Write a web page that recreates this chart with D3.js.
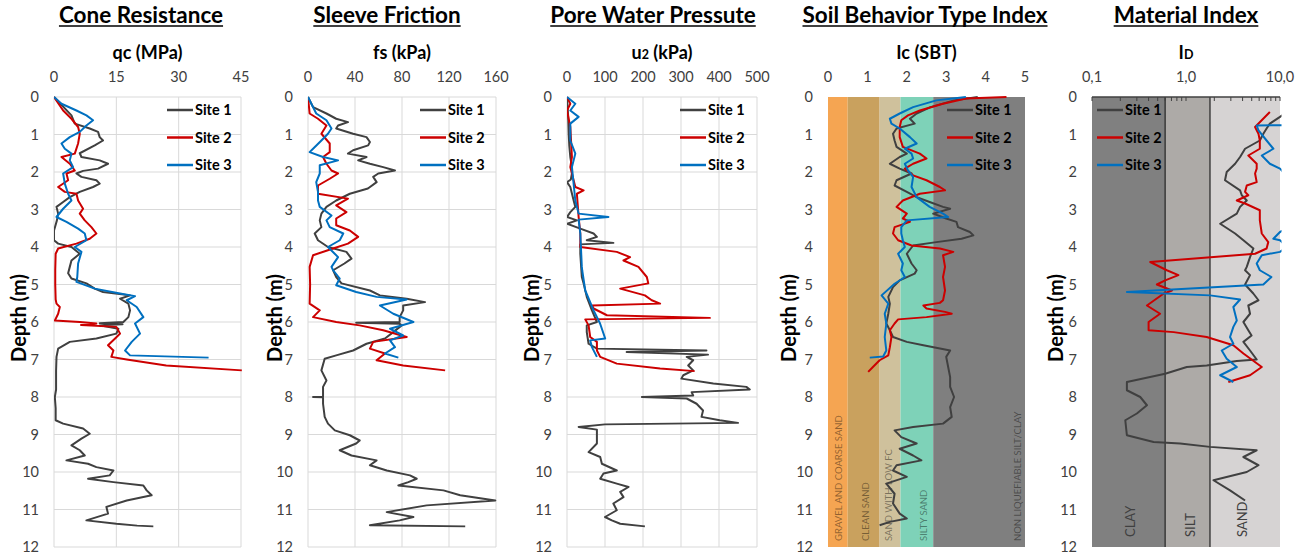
<!DOCTYPE html>
<html><head><meta charset="utf-8">
<script src="https://cdn.jsdelivr.net/npm/d3@7"></script>
<style>body{margin:0;background:#fff}svg{display:block;font-family:Lato,'Open Sans',sans-serif}</style>
</head><body><svg id="c" width="1308" height="558"></svg>
<script>
// ---------- DATA : [depth (m), value] ----------
const depthTicks = [0,1,2,3,4,5,6,7,8,9,10,11,12];
const siteNames = ['Site 1','Site 2','Site 3'];

const qcTicks = [0,15,30,45];
const qcSite1 = [[0,0],[0.49,4.2],[0.71,5],[0.84,8.6],[0.93,10.6],[1.07,11],[1.16,11.8],[1.29,9.8],[1.5,6.2],[1.6,6.6],[1.69,11],[1.78,13],[1.91,10.6],[1.97,7],[2.04,5.4],[2.13,6.6],[2.22,10.2],[2.31,11],[2.4,9.4],[2.53,6.2],[2.67,3.8],[2.8,2.2],[2.93,0.6],[3.11,1],[3.29,0.7],[3.56,0],[3.82,0],[3.91,1],[4.0,4.2],[4.18,6.2],[4.36,4.2],[4.53,3.8],[4.7,3.4],[4.84,4.2],[4.97,7.8],[5.11,9.8],[5.2,11.8],[5.29,18.3],[5.38,15.9],[5.51,17.9],[5.69,18.3],[5.87,17.9],[6.0,16.7],[6.03,11],[6.06,16.5],[6.09,11],[6.18,15.5],[6.31,15],[6.44,10.2],[6.53,3.8],[6.71,1],[6.93,0.6],[7.3,0.5],[7.8,0.5],[8.0,0.2],[8.3,0.4],[8.62,0.4],[8.71,2.2],[8.84,7],[8.98,8.6],[9.11,6.6],[9.29,4.2],[9.42,6.2],[9.56,7.4],[9.69,3],[9.78,8.2],[9.87,10.2],[9.96,14.3],[10.09,13.4],[10.18,8.2],[10.27,14.3],[10.36,21.5],[10.49,22.3],[10.62,23.5],[10.76,17.5],[10.93,12.6],[11.11,13],[11.29,7.8],[11.38,15],[11.43,20],[11.45,23.9]];
const qcSite2 = [[0,0],[0.36,2.2],[0.58,4.2],[0.8,5.8],[0.98,6.2],[1.24,5.8],[1.51,5],[1.6,1.8],[1.78,3.8],[1.96,5],[2.04,3],[2.22,3.4],[2.4,1],[2.53,2.6],[2.58,5.4],[2.76,5.8],[2.98,7],[3.11,6.2],[3.29,7.4],[3.47,9],[3.64,10.2],[3.78,8.6],[3.91,5.4],[4.04,1],[4.18,0.4],[4.6,0.3],[5.0,0.3],[5.4,0.4],[5.51,0.6],[5.6,1.4],[5.78,1],[5.96,0.2],[6.0,6.2],[6.04,10.2],[6.08,6.5],[6.13,15],[6.31,15.9],[6.44,14.7],[6.62,13],[6.76,14.3],[6.93,13.8],[7.0,17.5],[7.16,27],[7.29,45.2]];
const qcSite3 = [[0,0],[0.18,1.8],[0.36,5.4],[0.49,7.8],[0.62,9.4],[0.76,7.8],[0.93,6.2],[1.07,3.8],[1.24,1.8],[1.38,2.6],[1.51,4.2],[1.69,3.8],[1.87,4.6],[2.04,2.2],[2.31,2.6],[2.58,3.4],[2.76,4.2],[2.98,2.2],[3.2,0.6],[3.33,3],[3.51,5.8],[3.64,7.4],[3.82,7.8],[4.0,5],[4.13,6.6],[4.44,5.8],[4.8,5.6],[4.93,5.4],[5.11,9.8],[5.24,15.9],[5.31,19.5],[5.42,17.5],[5.6,19.9],[5.87,21.5],[6.04,19.5],[6.31,20.7],[6.53,18.7],[6.76,17.1],[6.89,18.3],[6.95,37.2]];

const fsTicks = [0,40,80,120,160];
const fsSite1 = [[0,0],[0.27,4.3],[0.44,15.7],[0.58,24],[0.67,34],[0.76,25.6],[0.84,24],[0.98,38.4],[1.07,49.8],[1.2,52.7],[1.29,51.2],[1.42,38.4],[1.51,34],[1.6,49.8],[1.69,42.7],[1.78,52.7],[1.87,64],[1.96,74],[2.04,59.8],[2.13,55.5],[2.27,58.4],[2.44,51],[2.58,35.6],[2.76,24],[2.93,15.7],[3.11,11.4],[3.29,10],[3.47,11.4],[3.64,5.7],[3.82,8.5],[4.0,17],[4.13,32.7],[4.31,37],[4.44,31],[4.62,21.4],[4.8,24],[4.97,28.5],[5.16,52.7],[5.29,61.2],[5.38,84],[5.47,99.6],[5.56,81],[5.69,81],[5.87,78],[6.0,78],[6.02,41],[6.05,78],[6.09,79.7],[6.27,72.6],[6.44,65.5],[6.58,49.8],[6.76,38.4],[6.89,24],[6.98,14.2],[7.29,11.4],[7.56,15.7],[7.73,12.8],[7.99,12.8],[8.0,4.3],[8.01,12.8],[8.18,12.8],[8.53,14.2],[8.71,17],[8.89,22.8],[9.02,35.6],[9.16,44],[9.24,41],[9.42,27],[9.56,37],[9.69,58.4],[9.82,52.7],[9.96,67],[10.09,86.8],[10.18,92.5],[10.27,85.4],[10.36,76.9],[10.49,115.3],[10.62,129.5],[10.76,159.4],[10.89,101],[11.07,67],[11.2,89.7],[11.29,78],[11.42,52.7],[11.45,133.8]];
const fsSite2 = [[0,0],[0.44,1.4],[0.58,8.5],[0.76,15.7],[0.98,11.4],[1.24,18.5],[1.47,18.5],[1.6,12.8],[1.78,15.7],[1.96,20],[2.04,25.6],[2.18,18.5],[2.36,8.5],[2.58,8.5],[2.71,34],[2.89,24],[3.07,32.7],[3.24,24],[3.42,24],[3.56,35.6],[3.73,42.7],[3.91,34],[4.04,21.4],[4.22,4.3],[4.53,1.4],[5.0,1.8],[5.51,1.4],[5.69,10],[5.87,4.3],[6.0,24],[6.09,44],[6.22,64],[6.4,84],[6.53,55.5],[6.71,52.7],[6.84,65.5],[7.02,58.4],[7.16,81],[7.29,116.7]];
const fsSite3 = [[0,0],[0.44,7],[0.62,15.7],[0.84,20],[0.98,17],[1.16,11.4],[1.38,4.3],[1.47,1.4],[1.6,12.8],[1.69,25.6],[1.82,10],[2.04,10],[2.27,7],[2.53,8.5],[2.76,8.5],[2.93,10],[3.16,20],[3.29,15.7],[3.47,18.5],[3.64,30],[3.82,27],[4.0,17],[4.27,25.6],[4.53,20],[4.62,21.4],[4.84,27],[5.02,24],[5.2,41],[5.33,58.4],[5.4,84],[5.56,61.2],[5.78,72.6],[6.0,89.7],[6.18,69.8],[6.36,81],[6.49,69.8],[6.67,74],[6.84,65.5],[6.95,76.9]];

const u2Ticks = [0,100,200,300,400,500];
const u2Site1 = [[0,0],[0.5,3],[0.98,4.4],[1.3,6],[1.6,8.7],[1.87,13],[2.04,13],[2.2,10],[2.27,0],[2.4,8.7],[2.76,17.5],[2.93,21.9],[3.07,8.7],[3.2,0],[3.29,26],[3.38,0],[3.51,35],[3.64,70],[3.73,78.7],[3.82,52],[3.89,122],[3.93,35],[4.18,35],[4.8,39],[4.97,43.7],[5.33,52],[5.69,65.6],[6.0,78.7],[6.09,52],[6.27,52],[6.58,56.8],[6.71,78.7],[6.76,367],[6.8,157],[6.87,371],[6.93,315],[7.02,332],[7.16,319],[7.29,332],[7.42,306],[7.51,301],[7.64,385],[7.73,472],[7.8,481],[7.87,328],[7.96,332],[8.0,197],[8.04,315],[8.18,341],[8.36,358],[8.53,354],[8.62,402],[8.69,450],[8.73,100],[8.8,30.6],[8.87,78.7],[9.24,78.7],[9.47,56.8],[9.6,87.4],[9.78,91.8],[9.96,131],[10.04,96],[10.18,87.4],[10.31,131],[10.4,162],[10.53,140],[10.67,148.6],[10.84,122],[11.02,131],[11.2,100],[11.29,118],[11.38,140],[11.45,205]];
const u2Site2 = [[0,0],[0.18,8.7],[0.36,0],[0.8,8.7],[1.6,13],[1.87,8.7],[2.4,21.9],[2.49,43.7],[2.58,26],[3.2,30.6],[3.64,35],[4.0,35],[4.13,131],[4.27,166],[4.36,148.6],[4.53,188],[4.8,210],[4.97,214],[5.11,140],[5.29,205],[5.42,223],[5.51,245],[5.56,65.6],[5.64,70],[5.82,105],[5.89,376],[5.93,48],[6.09,56.8],[6.4,61],[6.53,78.7],[6.76,78.7],[6.93,87.4],[7.11,131],[7.24,245],[7.31,336]];
const u2Site3 = [[0,0],[0.18,21.9],[0.36,8.7],[0.53,30.6],[0.71,8.7],[1.16,8.7],[1.51,21.9],[1.87,13],[2.76,21.9],[3.11,30.6],[3.2,109],[3.27,30.6],[3.64,35],[4.53,39],[4.62,40],[5.16,48],[5.69,70],[6.04,87],[6.44,100.5],[6.49,61],[6.67,65.6],[6.93,78.7]];

const icTicks = [0,1,2,3,4,5];
const icZoneLimits = [0,0.5,1.31,1.84,2.67,5];
const icZoneNames = ['GRAVEL AND COARSE SAND','CLEAN SAND','SAND WITH LOW FC','SILTY SAND','NON LIQUEFIABLE SILT/CLAY'];
const icSite1 = [[0,3.8],[0.09,3.2],[0.27,2.6],[0.44,2.25],[0.58,2.08],[0.71,2.2],[0.84,1.74],[0.98,1.65],[1.16,1.69],[1.33,1.74],[1.51,2.0],[1.6,1.82],[1.78,1.57],[1.91,1.82],[2.04,2.12],[2.22,1.74],[2.36,1.69],[2.53,2.0],[2.67,2.25],[2.8,2.58],[2.93,2.92],[2.98,3.1],[3.11,2.67],[3.24,3.0],[3.33,3.26],[3.47,3.3],[3.6,3.6],[3.69,3.69],[3.78,3.39],[3.87,2.75],[3.96,2.16],[4.18,2.0],[4.44,2.12],[4.62,2.25],[4.71,2.2],[4.89,1.82],[5.07,1.65],[5.33,1.53],[5.51,1.57],[5.78,1.53],[6.04,1.48],[6.22,1.57],[6.4,1.65],[6.53,2.0],[6.62,2.42],[6.76,3.1],[6.93,3.0],[7.2,3.05],[7.47,3.1],[7.73,3.1],[8.0,3.2],[8.27,3.1],[8.53,3.14],[8.71,2.92],[8.8,2.16],[8.89,1.69],[9.07,1.86],[9.24,2.25],[9.38,1.82],[9.56,2.16],[9.69,2.37],[9.82,1.74],[9.96,1.65],[10.13,2.0],[10.31,1.48],[10.58,1.69],[10.84,1.65],[11.11,1.82],[11.24,2.0],[11.33,1.57],[11.42,1.31]];
const icSite2 = [[0,4.53],[0.04,3.5],[0.18,2.92],[0.36,2.33],[0.49,2.03],[0.62,1.86],[0.8,1.82],[1.07,1.82],[1.33,1.9],[1.51,2.33],[1.64,2.5],[1.78,2.16],[1.91,1.95],[2.09,2.16],[2.22,2.5],[2.4,2.84],[2.49,2.97],[2.58,2.33],[2.76,1.9],[2.93,1.74],[3.11,2.0],[3.24,1.9],[3.33,2.08],[3.47,1.69],[3.64,1.65],[3.82,1.78],[3.96,2.12],[4.04,2.84],[4.13,3.18],[4.22,2.92],[4.53,2.97],[4.8,2.92],[5.16,2.97],[5.42,2.92],[5.49,2.84],[5.56,2.42],[5.64,2.5],[5.73,2.97],[5.78,3.14],[5.87,2.5],[5.93,1.78],[6.04,1.69],[6.22,1.57],[6.4,1.61],[6.67,1.57],[6.89,1.53],[7.02,1.31],[7.2,1.14],[7.33,1.02]];
const icSite3 = [[0,3.5],[0.09,2.75],[0.27,2.16],[0.44,1.82],[0.58,1.57],[0.71,1.61],[0.84,1.82],[1.07,2.08],[1.24,2.25],[1.38,1.95],[1.51,2.12],[1.64,2.16],[1.78,1.95],[1.96,2.03],[2.13,2.16],[2.4,2.12],[2.67,2.25],[2.93,2.58],[3.11,2.92],[3.2,3.05],[3.29,2.0],[3.47,1.86],[3.64,1.86],[3.82,1.9],[4.0,1.95],[4.18,1.78],[4.44,1.9],[4.62,1.86],[4.8,1.95],[4.98,1.69],[5.29,1.36],[5.51,1.53],[5.78,1.44],[6.04,1.48],[6.4,1.44],[6.76,1.48],[6.92,1.4],[6.95,1.06]];

const idTicks = [0.1,1,10];
const idTickLabels = ['0,1','1,0','10,0'];
const idZoneLimits = [0.1,0.6,1.8,10];
const idZoneNames = ['CLAY','SILT','SAND'];
const idSite1 = [[0.4,12],[0.53,10],[0.71,7.8],[0.84,7.2],[0.98,6.65],[1.16,6.1],[1.38,4.25],[1.6,3.76],[1.78,3.33],[2.0,2.71],[2.22,2.6],[2.49,3.76],[2.62,3.92],[2.76,4.43],[2.93,3.76],[3.11,3.47],[3.38,2.31],[3.64,3.33],[3.82,4.08],[4.04,5.21],[4.27,4.8],[4.53,4.43],[4.62,4.25],[4.75,4.8],[5.0,4.25],[5.24,5.2],[5.42,5.9],[5.56,4.6],[5.78,4.8],[6.0,4.08],[6.22,4.6],[6.36,4.98],[6.53,4.08],[6.76,4.8],[7.0,5.65],[7.04,3.47],[7.16,1.66],[7.2,1.02],[7.38,0.6],[7.6,0.235],[7.82,0.235],[8.0,0.326],[8.22,0.384],[8.44,0.3],[8.62,0.226],[9.02,0.235],[9.2,0.452],[9.24,0.867],[9.33,1.8],[9.42,5.65],[9.6,4.08],[9.82,5.9],[10.0,4.43],[10.22,1.96],[10.49,2.94],[10.76,4.25]];
const idSite2 = [[0.4,7.8],[0.8,5.43],[0.98,5.9],[1.16,6.1],[1.38,6.1],[1.56,4.6],[1.78,5.65],[1.91,5.65],[2.04,5.43],[2.27,5.65],[2.36,4.43],[2.53,4.25],[2.62,4.6],[2.76,3.47],[2.84,4.25],[3.02,6.1],[3.29,6.1],[3.64,6.4],[3.87,7.5],[4.04,7.2],[4.18,5.43],[4.4,0.416],[4.62,0.625],[4.75,0.83],[4.89,0.6],[5.0,0.49],[5.16,0.71],[5.24,0.58],[5.56,0.384],[5.78,0.53],[6.0,0.4],[6.22,0.4],[6.27,0.74],[6.4,1.66],[6.62,3.19],[6.84,4.08],[7.2,6.4],[7.42,4.8],[7.6,2.82]];
const idSite3 = [[0.75,12],[0.76,5.65],[0.89,5.9],[1.16,7.2],[1.38,8.5],[1.56,6.4],[1.78,7.8],[1.91,10],[2.3,14],[3.0,15],[3.5,12],[3.6,10],[3.78,8.5],[3.82,10],[4.0,12],[4.13,10],[4.22,6.4],[4.44,5.65],[4.62,6.1],[4.8,8.1],[5.0,6.65],[5.2,0.235],[5.29,1.8],[5.4,3.76],[5.6,3.19],[5.96,3.47],[6.13,3.19],[6.4,2.94],[6.58,3.19],[6.76,2.4],[6.98,2.71],[7.2,3.47],[7.42,2.31],[7.6,3.19]];

// ---------- LAYOUT ----------
const svg = d3.select('#c');
const yTop = 97, yBot = 547;
const y = d3.scaleLinear().domain([0,12]).range([yTop,yBot]);
const colors = ['#404040','#CC0000','#0070C0'];
const icColors = ['#F5A552','#C9A15E','#CFC19C','#7ED2B8','#7F7F7F'];
const idColors = ['#808080','#ADAAA7','#D6D3D3'];

const panels = [
  {title:'Cone Resistance', tx:141, at:['qc (MPa)'], x0:54, x1:241, scale:'lin', domain:[0,45], ticks:qcTicks, series:[qcSite1,qcSite2,qcSite3], dx:18, lx:167, grid:true},
  {title:'Sleeve Friction', tx:387, at:['fs (kPa)'], x0:308, x1:496, scale:'lin', domain:[0,160], ticks:fsTicks, series:[fsSite1,fsSite2,fsSite3], dx:274, lx:420, grid:true},
  {title:'Pore Water Pressute', tx:653, at:['u','2',' (kPa)'], x0:567, x1:757, scale:'lin', domain:[0,500], ticks:u2Ticks, series:[u2Site1,u2Site2,u2Site3], dx:531, lx:680, grid:true},
  {title:'Soil Behavior Type Index', tx:925, at:['Ic (SBT)'], x0:828, x1:1025, scale:'lin', domain:[0,5], ticks:icTicks, series:[icSite1,icSite2,icSite3], dx:788, lx:947, grid:false, zones:'ic'},
  {title:'Material Index', tx:1186, at:['I','D',''], x0:1092, x1:1280, scale:'log', domain:[0.1,10], ticks:idTicks, tickLabels:idTickLabels, series:[idSite1,idSite2,idSite3], dx:1055, lx:1097, grid:false, zones:'id'}
];

const defs = svg.append('defs');

panels.forEach((p,pi)=>{
  const x = (p.scale==='log'? d3.scaleLog() : d3.scaleLinear()).domain(p.domain).range([p.x0,p.x1]);
  const g = svg.append('g');

  // title with underline
  const t = g.append('text').attr('x',p.tx).attr('y',22.5).attr('text-anchor','middle')
    .attr('font-size',22.5).attr('font-weight','bold').attr('fill','#000').text(p.title);
  const w = t.node().getComputedTextLength();
  g.append('line').attr('x1',p.tx-w/2).attr('x2',p.tx+w/2).attr('y1',26).attr('y2',26).attr('stroke','#000').attr('stroke-width',1.7);

  // axis title
  const at = g.append('text').attr('x',(p.x0+p.x1)/2).attr('y',59).attr('text-anchor','middle')
    .attr('font-size',18).attr('font-weight','bold').attr('fill','#000');
  at.append('tspan').text(p.at[0]);
  if (p.at.length>1){ at.append('tspan').attr('font-size',12.5).text(p.at[1]); at.append('tspan').text(p.at[2]); }

  // zones
  if (p.zones==='ic'){
    icColors.forEach((c,i)=>{
      g.append('rect').attr('x',x(icZoneLimits[i])).attr('y',yTop).attr('width',x(icZoneLimits[i+1])-x(icZoneLimits[i])).attr('height',yBot-yTop).attr('fill',c);
    });
    const lblX = [838,865,888,923,1017];
    icZoneNames.forEach((n,i)=>{
      g.append('text').attr('transform',`translate(${lblX[i]},541) rotate(-90)`).attr('font-size',9.5)
        .attr('fill','#000').attr('fill-opacity',0.42).attr('dominant-baseline','central').text(n);
    });
  }
  if (p.zones==='id'){
    idColors.forEach((c,i)=>{
      g.append('rect').attr('x',x(idZoneLimits[i])).attr('y',yTop).attr('width',x(idZoneLimits[i+1])-x(idZoneLimits[i])).attr('height',yBot-yTop).attr('fill',c);
    });
    [idZoneLimits[1],idZoneLimits[2]].forEach(v=>{
      g.append('line').attr('x1',x(v)).attr('x2',x(v)).attr('y1',yTop).attr('y2',yBot).attr('stroke','#222').attr('stroke-width',1.2);
    });
    const lblX = [1130,1190,1242];
    idZoneNames.forEach((n,i)=>{
      g.append('text').attr('transform',`translate(${lblX[i]},537) rotate(-90)`).attr('font-size',13)
        .attr('fill','#404040').attr('dominant-baseline','central').text(n);
    });
    g.append('line').attr('x1',p.x0).attr('x2',p.x1).attr('y1',yTop).attr('y2',yTop).attr('stroke','#404040').attr('stroke-width',1.5);
    x.ticks().forEach(v=>{
      g.append('line').attr('x1',x(v)).attr('x2',x(v)).attr('y1',yTop).attr('y2',yTop+4).attr('stroke','#404040').attr('stroke-width',1);
    });
  }

  // gridlines
  if (p.grid){
    depthTicks.forEach(d=>{
      g.append('line').attr('x1',p.x0).attr('x2',p.x1).attr('y1',y(d)).attr('y2',y(d)).attr('stroke','#d9d9d9').attr('stroke-width',1);
    });
    p.ticks.forEach(v=>{
      g.append('line').attr('x1',x(v)).attr('x2',x(v)).attr('y1',yTop).attr('y2',yBot).attr('stroke','#d9d9d9').attr('stroke-width',1);
    });
  }

  // tick labels
  p.ticks.forEach((v,i)=>{
    g.append('text').attr('x',x(v)).attr('y',82).attr('text-anchor','middle').attr('font-size',14.5).attr('fill','#404040')
      .text(p.tickLabels? p.tickLabels[i] : v);
  });
  depthTicks.forEach(d=>{
    g.append('text').attr('x',p.x0-15).attr('y',y(d)+5).attr('text-anchor','end').attr('font-size',14.5).attr('fill','#404040').text(d);
  });
  g.append('text').attr('transform',`translate(${p.dx},318) rotate(-90)`).attr('text-anchor','middle')
    .attr('dominant-baseline','central').attr('font-size',20).attr('font-weight','bold').attr('fill','#000').text('Depth (m)');

  // clip
  const cid = 'clip'+pi;
  defs.append('clipPath').attr('id',cid).append('rect').attr('x',p.x0).attr('y',yTop-2).attr('width',p.x1-p.x0+1.5).attr('height',yBot-yTop+4);

  const line = d3.line().x(d=>x(d[1])).y(d=>y(d[0]));
  const lg = g.append('g').attr('clip-path',`url(#${cid})`);
  p.series.forEach((s,si)=>{
    lg.append('path').datum(s).attr('d',line).attr('fill','none').attr('stroke',colors[si])
      .attr('stroke-width',2).attr('stroke-linejoin','round');
  });

  // legend
  siteNames.forEach((n,si)=>{
    const ly = 110 + si*27.5;
    g.append('line').attr('x1',p.lx).attr('x2',p.lx+26).attr('y1',ly).attr('y2',ly).attr('stroke',colors[si]).attr('stroke-width',2.5);
    g.append('text').attr('x',p.lx+28).attr('y',ly+5).attr('font-size',14.5).attr('font-weight','bold').attr('fill','#000').text(n);
  });
});
</script></body></html>
